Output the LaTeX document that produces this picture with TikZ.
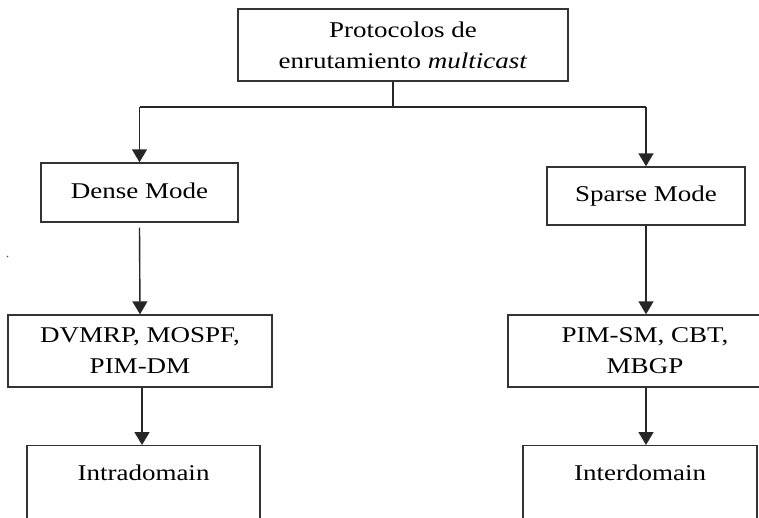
\documentclass[tikz,border=0pt]{standalone}
\usepackage{fontspec}
\setmainfont{Liberation Serif}[FakeStretch=1.2]
\usetikzlibrary{arrows.meta}
\begin{document}
\begin{tikzpicture}[x=1pt,y=-1pt,
  box/.style={draw=black!80, line width=1.4pt, rectangle, align=center,
    inner sep=0pt, font=\fontsize{22.5}{31}\selectfont},
  openbox/.style={box, anchor=north, text height=15pt, text depth=90pt, inner ysep=20pt},
  link/.style={line width=1.4pt, draw=black!85},
  arr/.style={link, -{Triangle[width=15pt,length=13pt]}}]
\useasboundingbox (0,0) rectangle (759,517);
\clip (0,0) rectangle (759,517);

% tree of boxes
\node[box, minimum width=330, minimum height=72] (top) at (403,45)
  {Protocolos de\\enrutamiento \textit{multicast}};
\node[box, minimum width=197, minimum height=59] (dense) at (139.5,192.5)
  {\raisebox{3pt}{Dense Mode}};
\node[box, minimum width=198, minimum height=58] (sparse) at (646,196)
  {\raisebox{3pt}{Sparse Mode}};
\node[box, minimum width=264, minimum height=72] (dvmrp) at (140,351)
  {DVMRP, MOSPF,\\PIM-DM};
\node[box, minimum width=274, minimum height=72] (pimsm) at (645,351)
  {PIM-SM, CBT,\\MBGP};
\node[openbox, minimum width=233] (intra) at (143.5,445) {Intradomain};
\node[openbox, minimum width=234] (inter) at (640,445) {Interdomain};

% branching connector under the root
\coordinate (split) at (393,107);
\draw[link] (top.south -| split) -- (split);
\draw[link] (split -| dense.north) -- (split -| sparse.north);
\draw[arr] (split -| dense.north) -- (dense.north);
\draw[arr] (split -| sparse.north) -- (sparse.north);

% vertical chains
\draw[arr] ([yshift=-5pt]dense.south) -- (dvmrp.north);
\draw[arr] (sparse.south) -- (sparse.south |- pimsm.north);
\draw[arr] ([xshift=2pt]dvmrp.south) -- ([xshift=2pt]dvmrp.south |- intra.north);
\draw[arr] ([xshift=1pt]pimsm.south) -- ([xshift=1pt]pimsm.south |- inter.north);

% stray mark at the left margin
\fill[black!70] (7.5,256.5) circle (0.9pt);
\end{tikzpicture}
\end{document}
